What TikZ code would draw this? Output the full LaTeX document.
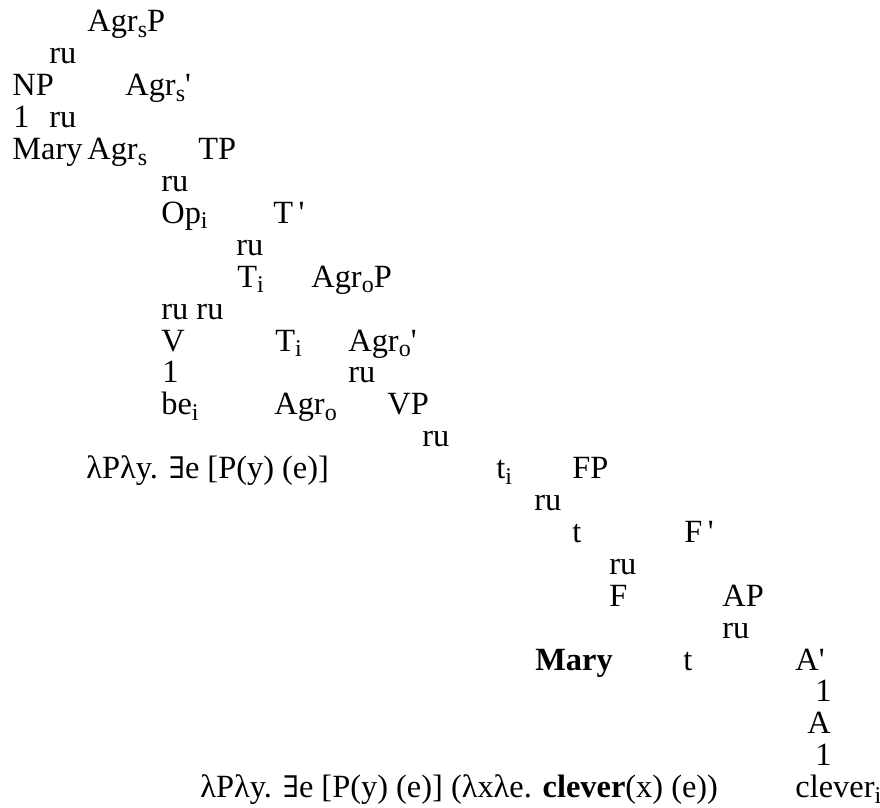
\documentclass[tikz,border=0pt]{standalone}
\usepackage{fontspec}
\setmainfont{Liberation Serif}
\newfontfamily\exfont[Scale=0.92]{DejaVu Serif}
\newcommand\sbs[1]{\raisebox{-0.17em}{\fontsize{12}{12}\selectfont #1}}
\newcommand\pr{\textquotesingle}
\newcommand\ex{{\exfont ∃}}
\begin{document}
\begin{tikzpicture}[x=0.5pt,y=-0.5pt,
  lbl/.style={anchor=base west,inner sep=0pt,font=\fontsize{16.2}{16.2}\selectfont}]
\useasboundingbox (0,0) rectangle (880,808);
% row 1
\node[lbl] (agrsp) at (87,32) {Agr\sbs{s}P};
% row 2
\node[lbl] (ru2) at (49,63.9) {ru};
% row 3
\node[lbl] (np) at (12,95.8) {NP};
\node[lbl] (agrsbar) at (125,95.8) {Agr\sbs{s}\pr};
% row 4
\node[lbl] (one4) at (13,127.7) {1};
\node[lbl] (ru4) at (49,127.7) {ru};
% row 5
\node[lbl] (mary1) at (12,159.6) {Mary};
\node[lbl] (agrs) at (87,159.6) {Agr\sbs{s}};
\node[lbl] (tp) at (198,159.6) {TP};
% row 6
\node[lbl] (ru6) at (161,191.5) {ru};
% row 7
\node[lbl] (op) at (161,223.4) {Op\sbs{i}};
\node[lbl] (tbar) at (273,223.4) {T\,\pr};
% row 8
\node[lbl] (ru8) at (236,255.3) {ru};
% row 9
\node[lbl] (ti1) at (237,287.2) {T\sbs{i}};
\node[lbl] (agrop) at (311,287.2) {Agr\sbs{o}P};
% row 10
\node[lbl] (ru10) at (161,319.1) {ru ru};
% row 11
\node[lbl] (v) at (161,351) {V};
\node[lbl] (ti2) at (275,351) {T\sbs{i}};
\node[lbl] (agrobar) at (348,351) {Agr\sbs{o}\pr};
% row 12
\node[lbl] (one12) at (162,382.9) {1};
\node[lbl] (ru12) at (348,382.9) {ru};
% row 13
\node[lbl] (be) at (161,414.8) {be\sbs{i}};
\node[lbl] (agro) at (274,414.8) {Agr\sbs{o}};
\node[lbl] (vp) at (387,414.8) {VP};
% row 14
\node[lbl] (ru14) at (422,446.7) {ru};
% row 15
\node[lbl] (sem1) at (86,478.6) {λPλy. \ex e [P(y) (e)]};
\node[lbl] (tti) at (496,478.6) {t\sbs{i}};
\node[lbl] (fp) at (572,478.6) {FP};
% row 16
\node[lbl] (ru16) at (534,510.5) {ru};
% row 17
\node[lbl] (t1) at (572,542.4) {t};
\node[lbl] (fbar) at (684,542.4) {F\,\pr};
% row 18
\node[lbl] (ru18) at (609,574.3) {ru};
% row 19
\node[lbl] (f) at (609,606.2) {F};
\node[lbl] (ap) at (722,606.2) {AP};
% row 20
\node[lbl] (ru20) at (722,638.1) {ru};
% row 21
\node[lbl] (mary2) at (535,670) {\textbf{Mary}};
\node[lbl] (t2) at (683,670) {t};
\node[lbl] (abar) at (795,670) {A\pr};
% row 22
\node[lbl] (one22) at (815,701.9) {1};
% row 23
\node[lbl] (a) at (807,733.8) {A};
% row 24
\node[lbl] (one24) at (815,765.7) {1};
% row 25
\node[lbl] (sem2) at (200,797.6) {λPλy. \ex e [P(y) (e)] (λxλe. \textbf{clever}(x) (e))};
\node[lbl] (clever) at (795,797.6) {clever\sbs{i}};
\end{tikzpicture}
\end{document}
